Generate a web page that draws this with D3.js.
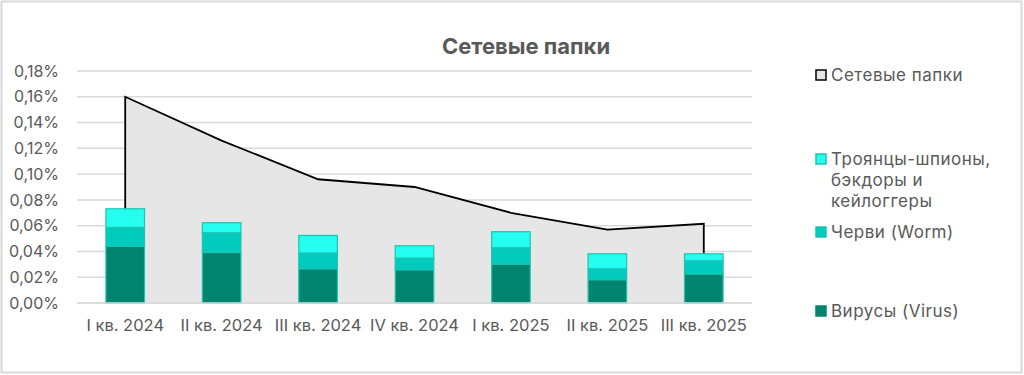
<!DOCTYPE html>
<html>
<head>
<meta charset="utf-8">
<script src="https://cdn.jsdelivr.net/npm/d3@7"></script>
<style>
  body { margin: 0; background: #fff; }
  text { font-family: Inter, "Noto Sans", sans-serif; fill: #595959; }
</style>
</head>
<body>
<svg id="chart"></svg>
<script>
// data (values in %)
const quarters = ["I кв. 2024", "II кв. 2024", "III кв. 2024", "IV кв. 2024", "I кв. 2025", "II кв. 2025", "III кв. 2025"];
const networkFolders = [0.160, 0.126, 0.096, 0.090, 0.070, 0.057, 0.0615];
const viruses = [0.0439, 0.0392, 0.0266, 0.0258, 0.0302, 0.0181, 0.0225];
const worms = [0.0147, 0.0153, 0.0122, 0.0091, 0.0127, 0.0085, 0.0103];
const trojans = [0.0145, 0.0078, 0.0136, 0.0095, 0.0124, 0.0116, 0.0054];
const yTicks = [0, 0.02, 0.04, 0.06, 0.08, 0.10, 0.12, 0.14, 0.16, 0.18];
const seriesNames = ["Вирусы (Virus)", "Черви (Worm)", "Троянцы-шпионы, бэкдоры и кейлоггеры"];
const title = "Сетевые папки";

// layout
const width = 1024, height = 375;
const margin = {top: 71, right: 272, bottom: 72, left: 77};
const plotW = width - margin.left - margin.right;
const plotH = height - margin.top - margin.bottom;
const colors = ["#00836f", "#00cbbd", "#24fff0"];

const svg = d3.select("#chart").attr("width", width).attr("height", height);

// outer frame
svg.append("rect")
    .attr("x", 1.5).attr("y", 1.5)
    .attr("width", width - 4).attr("height", height - 4)
    .attr("fill", "#fff").attr("stroke", "#d9d9d9").attr("stroke-width", 2);

const g = svg.append("g").attr("transform", "translate(" + margin.left + "," + margin.top + ")");

const x = d3.scaleBand().domain(quarters).range([0, plotW]).padding(0);
const y = d3.scaleLinear().domain([0, 0.18]).range([plotH, 0]);
const ru = d3.formatLocale({decimal: ",", thousands: " ", grouping: [3], currency: ["", ""]});
const fmt = ru.format(".2f");

// gridlines
g.selectAll(".grid")
    .data(yTicks)
    .enter().append("line")
    .attr("x1", 0).attr("x2", plotW)
    .attr("y1", d => y(d)).attr("y2", d => y(d))
    .attr("stroke", "#d9d9d9").attr("stroke-width", 1.5);

// y axis labels
const yAxis = g.append("g")
    .call(d3.axisLeft(y).tickValues(yTicks).tickSize(0).tickPadding(18).tickFormat(d => fmt(d) + "%"));
yAxis.select(".domain").remove();
yAxis.selectAll("text").style("font-size", "16px").attr("fill", "#595959")
    .style("font-family", "Inter, 'Noto Sans', sans-serif");

// x axis labels
const xAxis = g.append("g")
    .attr("transform", "translate(0," + plotH + ")")
    .call(d3.axisBottom(x).tickSize(0).tickPadding(16));
xAxis.select(".domain").remove();
xAxis.selectAll("text").style("font-size", "16.5px").attr("fill", "#595959")
    .style("font-family", "Inter, 'Noto Sans', sans-serif");

// area for network folders
const cx = d => x(d) + x.bandwidth() / 2;
const areaData = quarters.map((q, i) => ({q: q, v: networkFolders[i]}));
g.append("path")
    .datum(areaData)
    .attr("fill", "#e6e6e6")
    .attr("d", d3.area().x(d => cx(d.q)).y0(y(0)).y1(d => y(d.v)));
const first = areaData[0], last = areaData[areaData.length - 1];
const outline = [{q: first.q, v: 0}].concat(areaData, [{q: last.q, v: 0}]);
g.append("path")
    .datum(outline)
    .attr("fill", "none")
    .attr("stroke", "#000").attr("stroke-width", 1.8)
    .attr("d", d3.line().x(d => cx(d.q)).y(d => y(d.v)));

// stacked bars
const stackRows = quarters.map((q, i) => ({q: q, s0: viruses[i], s1: worms[i], s2: trojans[i]}));
const stacked = d3.stack().keys(["s0", "s1", "s2"])(stackRows);
const barW = x.bandwidth() * 0.4;
g.selectAll(".layer")
    .data(stacked)
    .enter().append("g")
    .attr("fill", (d, i) => colors[i])
    .selectAll("rect")
    .data(d => d)
    .enter().append("rect")
    .attr("x", d => cx(d.data.q) - barW / 2)
    .attr("y", d => y(d[1]))
    .attr("width", barW)
    .attr("height", d => y(d[0]) - y(d[1]))
    .attr("stroke", "#1cc4b2").attr("stroke-width", 1.2);

// baseline over bars
g.append("line")
    .attr("x1", 0).attr("x2", plotW).attr("y1", y(0)).attr("y2", y(0))
    .attr("stroke", "#d9d9d9").attr("stroke-width", 1.5);

// title
svg.append("text")
    .attr("x", 526).attr("y", 54)
    .attr("text-anchor", "middle")
    .style("font-size", "22px").style("font-weight", "bold")
    .text(title);

// legend
const legendItems = [
  {lines: [title], fill: "#e6e6e6", stroke: "#000", top: 81},
  {lines: ["Троянцы-шпионы,", "бэкдоры и", "кейлоггеры"], fill: colors[2], stroke: "#1cc4b2", top: 165},
  {lines: [seriesNames[1]], fill: colors[1], stroke: "#1cc4b2", top: 238},
  {lines: [seriesNames[0]], fill: colors[0], stroke: colors[0], top: 317}
];
const leg = svg.append("g");
legendItems.forEach(item => {
  leg.append("rect")
      .attr("x", 816).attr("y", item.top - 11)
      .attr("width", 10).attr("height", 10)
      .attr("fill", item.fill).attr("stroke", item.stroke).attr("stroke-width", 1.5);
  const t = leg.append("text").attr("x", 831).attr("y", item.top)
      .style("font-size", "17px").style("letter-spacing", "0.5px");
  item.lines.forEach((l, i) => {
    t.append("tspan").attr("x", 831).attr("dy", i === 0 ? 0 : 21).text(l);
  });
});
</script>
</body>
</html>
